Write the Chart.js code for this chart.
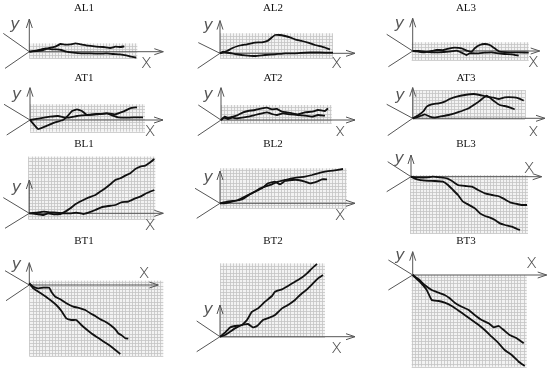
<!DOCTYPE html>
<html>
<head>
<meta charset="utf-8">
<script src="https://cdn.jsdelivr.net/npm/chart.js@4.4.0/dist/chart.umd.min.js"></script>
<style>
  body { margin: 0; background: #fff; }
  #wrap { position: relative; width: 550px; height: 371px; overflow: hidden; }
  #wrap canvas { position: absolute; }
</style>
</head>
<body>
<div id="wrap"></div>
<script>
// two measured curves per panel, [x, y] in grid units from the axis origin
const al1A = [[0,0],[7,0.7],[14,1.7],[21,4],[26,5],[31,7.7],[36,7],[41,7.3],[46,8.3],[52,7.3],[59,6],[67,5],[74,4.7],[81,3.7],[86,5],[91,4.7],[95,5.3]];
const al1B = [[0,0],[7,1],[12,2.3],[17,3.3],[22,2.3],[27,2.3],[32,1.7],[37,0],[44,-1],[52,-1.7],[61,-1.7],[71,-2],[77,-1.7],[84,-2.3],[91,-2.7],[97,-3.7],[102,-5],[107,-6]];
const al2A = [[0,0],[3,1],[7,2.3],[12,5],[18,7.3],[27,9],[35,10.7],[42,11],[48,12.7],[52,16],[55,18.3],[60,18.3],[65,17.3],[70,16],[75,14],[82,12.3],[88,10.7],[95,8.3],[102,6.7],[107,5],[110,4]];
const al2B = [[0,0],[3,1.7],[7,0.7],[12,0],[15,-0.7],[22,-1.7],[28,-2.3],[35,-2.7],[45,-1.7],[55,-1],[65,0],[75,0],[85,0.7],[95,1],[105,0.7],[113,0.7]];
const al3A = [[0,0],[6,-0.7],[12,-1.3],[19,0],[24,1],[31,1],[37,2.7],[42,3.3],[49,2.7],[54,0.3],[59,-0.7],[62,2.7],[67,6],[72,7],[77,6],[82,2.7],[87,-0.7],[96,-1.3],[106,-1.3],[116,-1.7]];
const al3B = [[0,0],[6,0],[12,-0.7],[19,-1.3],[26,-1.3],[36,-0.7],[44,0.3],[49,-1.7],[54,-4],[57,-2.3],[66,-2.3],[72,-1.7],[79,-1.3],[86,-2.3],[92,-3],[99,-3.3],[106,-4.7]];
const at1A = [[0,0],[8,-9],[17,-5.7],[25,-2.3],[33,0],[38,4.3],[42,9],[47,10.7],[52,9],[57,5],[67,5.7],[77,6.7],[85,5.7],[93,8.3],[100,11.7],[107,12.7]];
const at1B = [[0,0],[10,1.7],[20,3.3],[28,4],[37,2.3],[47,4],[57,5],[67,6],[77,6.7],[83,4.3],[88,2.7],[97,2.3],[107,2.7],[113,2.7]];
const at2A = [[0,0],[4,3.3],[7,2.3],[12,3.3],[17,5],[22,7.7],[27,9],[34,10],[41,11.7],[46,12.3],[51,10.7],[56,11],[61,8.3],[66,7.7],[71,6.7],[77,5.7],[84,7.7],[91,8.3],[97,10],[104,9],[107,11.7]];
const at2B = [[0,0],[3,2.3],[7,1],[11,2.3],[16,1.7],[21,2.3],[27,3.3],[34,5],[41,6.7],[46,7.7],[51,6],[56,5],[62,6.7],[69,5.7],[77,5],[84,4.3],[91,3.3],[97,5],[104,4.3]];
const at3A = [[0,0],[6,3.3],[11,7.3],[14,11.7],[19,14],[26,15],[32,16.7],[37,19.3],[44,21.7],[52,23.3],[61,24.3],[67,23.3],[74,21.7],[81,20.7],[86,19.3],[92,21],[101,21],[106,20],[111,17.7]];
const at3B = [[0,0],[6,1.7],[12,4],[17,1.7],[22,0.7],[27,1.7],[36,3.3],[42,5],[49,7.3],[56,10],[61,13.3],[66,16.7],[71,20.7],[74,22.7],[77,20.7],[82,16.7],[87,13.3],[92,12.3],[97,11],[102,9]];
const bl1A = [[0,0],[7,-0.7],[14,-1.7],[19,0],[24,-1],[31,-0.7],[36,1.7],[41,5],[46,9],[52,12.3],[59,15.7],[66,18.3],[71,21.7],[76,25],[81,29],[86,33.3],[91,35],[96,37.7],[101,40],[106,44.3],[111,46.7],[116,47.7],[121,51],[125,54.3]];
const bl1B = [[0,0],[7,0.7],[14,1.7],[21,1],[27,0.7],[34,0],[41,0],[47,0.7],[54,-0.7],[59,0.7],[66,3.3],[72,6],[79,7.3],[86,8.3],[92,11],[99,11.7],[106,15],[111,16.7],[117,20],[125,23.3]];
const bl2A = [[0,0],[7,1.7],[13,2.3],[20,3.3],[25,5.7],[30,9],[35,11.7],[40,15],[45,16.7],[52,19],[58,21.7],[65,23.3],[72,25],[78,26],[85,26.7],[92,28.3],[98,30],[105,31.7],[113,32.7],[123,34.3]];
const bl2B = [[0,0],[5,0],[12,1.7],[18,3.3],[23,5.7],[28,8.3],[35,11.7],[42,15],[48,20],[55,21.7],[60,19],[65,22.3],[72,23.3],[78,23.3],[85,21.7],[90,20],[97,21.7],[102,24],[107,24]];
const bl3A = [[0,0],[7,-0.7],[16,-0.7],[22,0],[29,-0.7],[36,-1.7],[41,-4.3],[47,-8.3],[54,-9.3],[61,-10],[67,-13.3],[74,-16.7],[81,-18.3],[87,-19.3],[92,-21.7],[99,-25.7],[106,-27.3],[111,-28.3],[116,-28.3]];
const bl3B = [[0,0],[6,-2.7],[14,-4],[24,-4.3],[32,-5],[37,-8.3],[42,-13.3],[47,-18.3],[52,-25],[57,-27.7],[64,-31.7],[69,-36.7],[74,-39.3],[79,-41],[84,-43.3],[89,-46.7],[94,-48.3],[101,-50],[106,-52.3],[109,-53.3]];
const bt1A = [[0,1.7],[4,-1.7],[9,-3.3],[14,-2.7],[20,-2.7],[22,-6.7],[26,-11.7],[31,-14.3],[37,-18.3],[44,-21.7],[51,-23.3],[56,-25],[61,-28.3],[66,-31],[71,-34.3],[76,-36.7],[81,-40],[86,-44.3],[89,-48.3],[92,-50],[96,-53.3],[99,-53.7]];
const bt1B = [[0,1.7],[4,-3.3],[9,-6.7],[14,-10],[21,-15],[27,-20],[32,-25.7],[37,-33.3],[42,-35],[47,-35],[52,-40],[57,-44.3],[62,-48.3],[67,-51.7],[72,-55],[77,-58.3],[82,-61.7],[87,-65.7],[91,-69]];
const bt2A = [[0,0],[5,4],[10,9.3],[15,10.7],[22,11.7],[27,16.7],[32,25],[38,28.3],[45,35],[52,40.7],[55,45],[62,47.3],[68,50.7],[75,55],[82,59.3],[87,63.3],[92,68.3],[97,72.7]];
const bt2B = [[0,0],[5,1.7],[10,5],[15,8.3],[22,11.7],[28,12.7],[33,9.3],[37,10.7],[43,16.7],[50,19.3],[55,21.7],[62,28.3],[68,31.7],[75,36.7],[80,41.7],[87,47.3],[93,53.3],[98,58.3],[103,61.7]];
const bt3A = [[0,0],[6,-4.3],[12,-10],[19,-15],[26,-17.7],[32,-20],[37,-23.3],[42,-27.7],[49,-31.7],[56,-35],[62,-40],[69,-45],[76,-48.3],[81,-52.3],[86,-51],[91,-55],[97,-60],[104,-63.3],[111,-68.3]];
const bt3B = [[0,0],[7,-6.7],[14,-15],[19,-25],[26,-26],[32,-27.7],[39,-31],[46,-35.7],[52,-40],[59,-45],[66,-50],[72,-55],[79,-61.7],[86,-68.3],[92,-75],[99,-80],[106,-86.7],[112,-91]];

const titles = ['AL1','AL2','AL3','AT1','AT2','AT3','BL1','BL2','BL3','BT1','BT2','BT3'];

// page layout
const cols = [{ left: 0, w: 183, tx: 84 }, { left: 183, w: 183, tx: 273 }, { left: 366, w: 184, tx: 466 }];
const rows = [{ top: 0, h: 70, ty: 8 }, { top: 70, h: 66, ty: 78 }, { top: 136, h: 98, ty: 144 }, { top: 234, h: 137, ty: 241 }];

const panels = [
  { origin: [29.3, 51.7], grid: [0, 108, -6.7, 8.3], xEnd: 134, yTop: 32.7, back: [-26, 18.3], front: [-24.3, -16.7], yLab: [-14.3, 26.7], xLab: [117, -11.7], curves: [al1A, al1B] },
  { origin: [220, 53.3], grid: [0, 113, -5, 20], xEnd: 135, yTop: 32.7, back: [-21.7, 10.7], front: [-22.3, -15], yLab: [-11.7, 27.3], xLab: [116.7, -10], curves: [al2A, al2B] },
  { origin: [412.7, 51], grid: [-1, 116, -9, 8.7], xEnd: 127, yTop: 32.7, back: [-26, 16.7], front: [-24.3, -15.7], yLab: [-13.3, 27], xLab: [120.7, -11.3], curves: [al3A, al3B] },
  { origin: [30, 120], grid: [0, 115, -11.7, 15.7], xEnd: 133, yTop: 32.3, back: [-26, 15.7], front: [-23.3, -15], yLab: [-13.3, 25], xLab: [120, -11], curves: [at1A, at1B] },
  { origin: [221, 120], grid: [0, 110.7, -3.3, 15], xEnd: 134, yTop: 32.3, back: [-22.7, 15], front: [-23.3, -15.7], yLab: [-12.7, 25], xLab: [119, -12.3], curves: [at2A, at2B] },
  { origin: [412.7, 118.3], grid: [0, 112.3, -0.7, 28.3], xEnd: 132.3, yTop: 30.7, back: [-26, 14], front: [-25, -17.3], yLab: [-12.7, 22.7], xLab: [120.7, -14], curves: [at3A, at3B] },
  { origin: [29.3, 213.3], grid: [-1, 126, -5.7, 56.7], xEnd: 134, yTop: 33.3, back: [-26, 15.7], front: [-24.3, -15], yLab: [-12.7, 25], xLab: [120.7, -11.7], curves: [bl1A, bl1B] },
  { origin: [220, 203.3], grid: [0, 126.7, -5, 35], xEnd: 135, yTop: 32.3, back: [-25, 15], front: [-23.3, -15], yLab: [-11.7, 25], xLab: [120, -11.7], curves: [bl2A, bl2B] },
  { origin: [411, 176.7], grid: [-1, 117, -56.7, 1.7], xEnd: 130.7, yTop: 21.7, back: [-23.3, 15], front: [-24.3, -15], yLab: [-11.7, 17.7], xLab: [118, 9], curves: [bl3A, bl3B] },
  { origin: [29.3, 285], grid: [0, 134, -71, 4.3], xEnd: 129, yTop: 22.3, back: [-24.3, 14.3], front: [-23.3, -15.7], yLab: [-12.7, 20], xLab: [114.7, 11.7], curves: [bt1A, bt1B] },
  { origin: [220, 336.7], grid: [0, 105, 0, 73.3], xEnd: 135, yTop: 31.7, back: [-23.3, 15.7], front: [-23.3, -15], yLab: [-11.7, 26.7], xLab: [116.7, -11.7], curves: [bt2A, bt2B] },
  { origin: [412.7, 275], grid: [-1, 114, -91.7, 0], xEnd: 134, yTop: 23.3, back: [-24.3, 15], front: [-24.3, -15], yLab: [-12.7, 19], xLab: [119, 12.3], curves: [bt3A, bt3B] }
];

const CELL = 3.2;
const AXIS_COLOR = '#555';

const sketchPlugin = {
  id: 'sketch',
  beforeDatasetsDraw(chart, args, opts) {
    const p = opts.panel;
    const ctx = chart.ctx;
    const sx = chart.scales.x, sy = chart.scales.y;
    const X = v => sx.getPixelForValue(v), Y = v => sy.getPixelForValue(v);
    ctx.save();

    // grid paper
    const gl = X(p.grid[0]), gr = X(p.grid[1]);
    const gt = Y(p.grid[3]), gb = Y(p.grid[2]);
    ctx.fillStyle = '#f3f3f3';
    ctx.fillRect(gl, gt, gr - gl, gb - gt);
    ctx.strokeStyle = '#c4c4c4';
    ctx.lineWidth = 0.8;
    ctx.beginPath();
    for (let x = gl; x <= gr + 0.1; x += CELL) {
      const px = Math.round(x) + 0.5;
      ctx.moveTo(px, gt); ctx.lineTo(px, gb);
    }
    for (let y = gb; y >= gt - 0.1; y -= CELL) {
      const py = Math.round(y) + 0.5;
      ctx.moveTo(gl, py); ctx.lineTo(gr, py);
    }
    ctx.stroke();

    // axes
    const ox = X(0), oy = Y(0);
    ctx.strokeStyle = AXIS_COLOR;
    ctx.lineWidth = 1;
    ctx.beginPath();
    ctx.moveTo(X(p.back[0]), Y(p.back[1])); ctx.lineTo(ox, oy);
    ctx.lineTo(X(p.front[0]), Y(p.front[1]));
    ctx.moveTo(ox, oy); ctx.lineTo(X(p.xEnd), oy);
    ctx.moveTo(ox, oy); ctx.lineTo(ox, Y(p.yTop));
    // arrow heads
    const xe = X(p.xEnd), yt = Y(p.yTop);
    ctx.moveTo(xe - 9, oy - 3); ctx.lineTo(xe, oy); ctx.lineTo(xe - 9, oy + 3);
    ctx.moveTo(ox - 3, yt + 9); ctx.lineTo(ox, yt); ctx.lineTo(ox + 3, yt + 9);
    ctx.stroke();

    // axis letters, thin and grey like the hand-drawn originals
    ctx.fillStyle = '#555';
    ctx.font = 'italic 200 16px "DejaVu Sans"';
    ctx.textAlign = 'center';
    ctx.textBaseline = 'middle';
    ctx.fillText('y', X(p.yLab[0]), Y(p.yLab[1]));
    ctx.font = '200 19px "DejaVu Sans"';
    ctx.fillText('x', X(p.xLab[0]), Y(p.xLab[1]));

    // panel title
    ctx.fillStyle = '#111';
    ctx.font = '11px "Liberation Serif"';
    ctx.fillText(opts.title, opts.titleX, opts.titleY);
    ctx.restore();
  }
};

const wrap = document.getElementById('wrap');
panels.forEach((p, i) => {
  const col = cols[i % 3], row = rows[Math.floor(i / 3)];
  const canvas = document.createElement('canvas');
  canvas.width = col.w;
  canvas.height = row.h;
  canvas.style.left = col.left + 'px';
  canvas.style.top = row.top + 'px';
  wrap.appendChild(canvas);

  const [ox, oy] = p.origin;
  new Chart(canvas.getContext('2d'), {
    type: 'line',
    data: {
      datasets: p.curves.map(c => ({
        data: c.map(pt => ({ x: pt[0], y: pt[1] })),
        borderColor: '#111',
        borderWidth: 1.8,
        pointRadius: 0,
        tension: 0.1,
        fill: false
      }))
    },
    options: {
      responsive: false,
      animation: false,
      events: [],
      layout: { padding: 0 },
      scales: {
        x: { type: 'linear', display: false, min: col.left - ox, max: col.left + col.w - ox },
        y: { type: 'linear', display: false, min: oy - (row.top + row.h), max: oy - row.top }
      },
      plugins: {
        legend: { display: false },
        tooltip: { enabled: false },
        sketch: { panel: p, title: titles[i], titleX: col.tx - col.left, titleY: row.ty - row.top }
      }
    },
    plugins: [sketchPlugin]
  });
});
</script>
</body>
</html>
